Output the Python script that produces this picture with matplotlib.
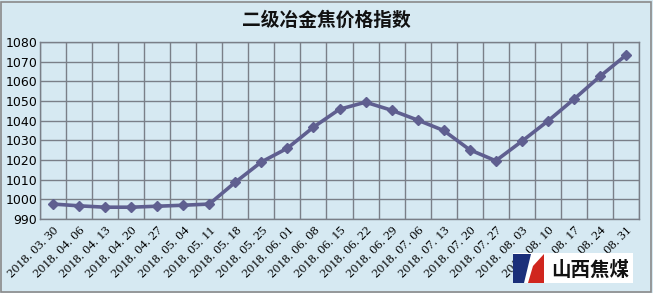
import matplotlib
matplotlib.use("Agg")
import matplotlib.pyplot as plt
from matplotlib.patches import Rectangle, Polygon

dates = ["2018. 03. 30", "2018. 04. 06", "2018. 04. 13", "2018. 04. 20", "2018. 04. 27",
         "2018. 05. 04", "2018. 05. 11", "2018. 05. 18", "2018. 05. 25", "2018. 06. 01",
         "2018. 06. 08", "2018. 06. 15", "2018. 06. 22", "2018. 06. 29", "2018. 07. 06",
         "2018. 07. 13", "2018. 07. 20", "2018. 07. 27", "2018. 08. 03", "2018. 08. 10",
         "2018. 08. 17", "2018. 08. 24", "2018. 08. 31"]
values = [997.6, 996.7, 996.0, 996.0, 996.5, 997.0, 997.6, 1008.7, 1019.0, 1026.0,
          1036.7, 1045.8, 1049.4, 1045.3, 1040.3, 1035.0, 1025.2, 1019.6, 1029.5,
          1039.8, 1050.9, 1062.5, 1073.3]
yticks = list(range(990, 1081, 10))
title = "二级冶金焦价格指数"

plt.rcParams['font.family'] = ['Noto Sans CJK SC', 'DejaVu Sans']
bg = "#D6E9F2"
fig = plt.figure(figsize=(6.53, 2.93), dpi=100, facecolor=bg)
W, H = 653, 293
ax = fig.add_axes([40 / W, 1 - 219 / H, (639 - 40) / W, (219 - 42) / H])
ax.set_facecolor(bg)

n = len(dates)
x = list(range(n))
ax.plot(x, values, color="#5F5F90", lw=2.6, marker="D", ms=5.5,
        markerfacecolor="#5F5F90", markeredgecolor="#5F5F90", zorder=3)

ax.set_xlim(-0.5, n - 0.5)
ax.set_ylim(990, 1080)
ax.set_yticks(yticks)
ax.set_yticklabels([str(v) for v in yticks], fontsize=9, family=['DejaVu Sans'])
ax.set_xticks(x)
ax.set_xticklabels(dates, rotation=45, ha="right", rotation_mode="anchor",
                   fontsize=9.5, family=['Liberation Serif'])
ax.set_xticks([i - 0.5 for i in range(n + 1)], minor=True)
ax.grid(True, which="minor", axis="x", color="#7A7F88", lw=1.0)
ax.grid(True, which="major", axis="y", color="#7A7F88", lw=1.0)
ax.tick_params(axis="x", which="both", length=0, pad=4)
ax.tick_params(axis="y", length=0, pad=2)
for s in ax.spines.values():
    s.set_color("#7A7F88")
    s.set_linewidth(1.0)

fig.text(0.5, 1 - 20 / H, title, ha="center", va="center", fontsize=13.5,
         fontweight="bold", color="#111111")

# outer border
fig.add_artist(Rectangle((1 / W, 1 / H), (W - 3) / W, (H - 3) / H, transform=fig.transFigure,
                         fill=False, edgecolor="#8A8A8A", lw=1.2))

# logo
fig.add_artist(Rectangle((513 / W, 1 - 283 / H), (633 - 513) / W, 30 / H,
                         transform=fig.transFigure, facecolor="white", edgecolor="none", zorder=5))
fig.add_artist(Polygon([(513 / W, 1 - 254 / H), (531 / W, 1 - 254 / H),
                        (524 / W, 1 - 283 / H), (513 / W, 1 - 283 / H)],
                       closed=True, transform=fig.transFigure, facecolor="#1B2F7A",
                       edgecolor="none", zorder=6))
fig.add_artist(Polygon([(544 / W, 1 - 254 / H), (544 / W, 1 - 283 / H), (528 / W, 1 - 283 / H),
                        (533 / W, 1 - 266 / H)],
                       closed=True, transform=fig.transFigure, facecolor="#D0261E",
                       edgecolor="none", zorder=6))
fig.text(590 / W, 1 - 270 / H, "山西焦煤", ha="center", va="center", fontsize=14,
         fontweight="bold", color="#111111", zorder=7)

fig.savefig("out.png", dpi=100, facecolor=bg)
